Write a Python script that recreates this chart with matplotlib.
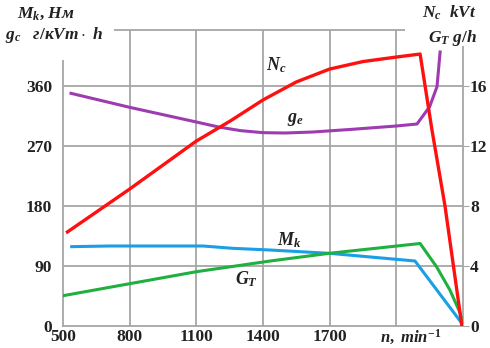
import matplotlib
matplotlib.use("Agg")
import matplotlib.pyplot as plt
from matplotlib.patches import Rectangle

plt.rcParams['font.family'] = 'Liberation Serif'
plt.rcParams['font.weight'] = 'bold'
plt.rcParams['mathtext.fontset'] = 'custom'
plt.rcParams['mathtext.it'] = 'Liberation Serif:italic:bold'
plt.rcParams['mathtext.rm'] = 'Liberation Serif:bold'
plt.rcParams['mathtext.bf'] = 'Liberation Serif:bold'

# data
n_ne = [520, 800, 1100, 1253, 1400, 1550, 1700, 1850, 2000, 2107, 2160, 2219, 2295]
ne = [6.27, 9.13, 12.33, 13.67, 15.07, 16.27, 17.13, 17.63, 17.93, 18.13, 13.1, 8.0, 0]

n_ge = [536, 800, 950, 1100, 1200, 1300, 1400, 1500, 1625, 1800, 2000, 2093, 2150, 2183, 2197]
ge = [349, 328, 317, 306, 298.5, 293, 290, 289.5, 291, 295, 300, 303, 329, 359, 411]

n_mk = [539, 710, 1130, 1265, 1431, 1700, 2084, 2295]
mk = [119, 120, 120, 116.5, 114, 109, 97.5, 4]

n_gt = [500, 1100, 1431, 1700, 2107, 2181, 2241, 2287, 2300]
gt = [2.02, 3.62, 4.33, 4.85, 5.5, 3.95, 2.4, 0.87, 0]

x_ticks = [500, 800, 1100, 1400, 1700]
left_ticks = [0, 90, 180, 270, 360]
right_ticks = [0, 4, 8, 12, 16]

W, H = 490, 348
fig = plt.figure(figsize=(4.9, 3.48), dpi=100)
ax = fig.add_axes([63 / W, 1 - 326 / H, 400 / W, 296.5 / H])
ax2 = ax.twinx()

grid_c = '#a6a6a6'
ax.set_xlim(500, 2300)
ax.set_ylim(0, 444.75)
ax2.set_ylim(0, 444.75 / 90 * 4)

for v in [800, 1100, 1400, 1700, 2000]:
    ax.axvline(v, color=grid_c, lw=1.3, zorder=0)
for v in [90, 180, 270, 360]:
    ax.axhline(v, color=grid_c, lw=1.3, zorder=0)
for s in ax.spines.values():
    s.set_color(grid_c)
    s.set_linewidth(1.3)
for s in ax2.spines.values():
    s.set_visible(False)

txt_c = '#222222'
ax.set_xticks(x_ticks)
ax.set_xticklabels([str(t) for t in x_ticks])
ax.set_yticks(left_ticks)
ax.set_yticklabels([str(t) for t in left_ticks])
ax2.set_yticks(right_ticks)
ax2.set_yticklabels([str(t) for t in right_ticks])
ax.tick_params(axis='both', length=0, labelsize=12.5, labelcolor=txt_c)
ax.tick_params(axis='x', pad=2.5)
ax.tick_params(axis='y', pad=8)
ax2.tick_params(axis='y', length=4, color=grid_c, labelsize=12.5, labelcolor=txt_c, pad=1)

# curves
ax2.plot(n_ne, ne, color='#ff1010', lw=2.4, zorder=5)
ax.plot(n_ge, ge, color='#9e3bb0', lw=2.2, zorder=4)
ax.plot(n_mk, mk, color='#1a9fe6', lw=2.2, zorder=4)
ax2.plot(n_gt, gt, color='#1fb040', lw=2.2, zorder=4)

# curve labels
lab = dict(fontsize=13, color=txt_c, transform=fig.transFigure, ha='left', va='center')
fig.text(266 / W, 1 - 65 / H, r'$N_c$', **lab)
fig.text(287 / W, 1 - 120 / H, r'$g_e$', **lab)
fig.text(277 / W, 1 - 240 / H, r'$M_k$', **lab)
fig.text(235 / W, 1 - 279 / H, r'$G_T$', **lab)

# white boxes covering the frame behind the axis titles
fig.add_artist(Rectangle((0, 1 - 60 / H), 114 / W, 60 / H, transform=fig.transFigure,
                         facecolor='white', edgecolor='none', zorder=3))
fig.add_artist(Rectangle((405 / W, 1 - 46 / H), 85 / W, 46 / H, transform=fig.transFigure,
                         facecolor='white', edgecolor='none', zorder=3))

# axis titles
ttl = dict(fontsize=12.5, color=txt_c, ha='left', va='center', zorder=4)
fig.text(17 / W, 1 - 14 / H, r'$M_k$, $Нм$', **ttl)
fig.text(5 / W, 1 - 35 / H, r'$g_c$   $г/кVm\cdot\ h$', **ttl)
fig.text(422 / W, 1 - 13 / H, r'$N_c$  $kVt$', **ttl)
fig.text(428 / W, 1 - 38 / H, r'$G_T$ $g/h$', **ttl)
fig.text(380 / W, 1 - 337 / H, r'$n,\ min^{-1}$', fontsize=12, color=txt_c,
         ha='left', va='center', zorder=4)

fig.savefig('out.png', dpi=100)
